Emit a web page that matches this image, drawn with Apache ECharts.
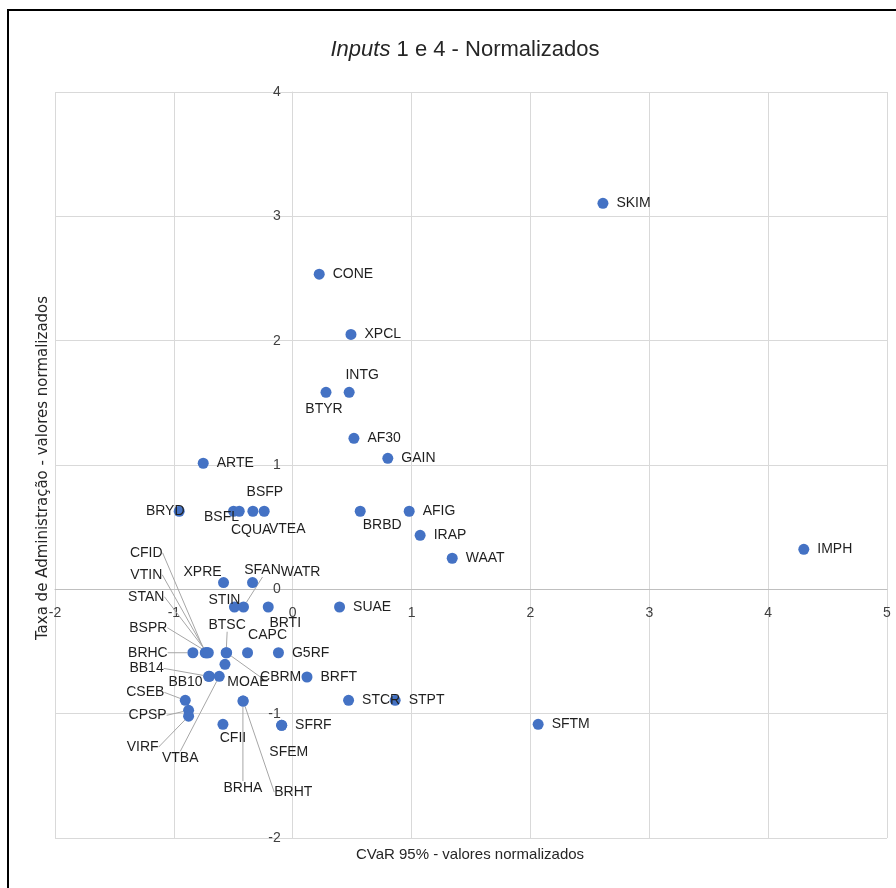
<!DOCTYPE html>
<html lang="pt">
<head>
    <meta charset="UTF-8">
    <title>Inputs 1 e 4 - Normalizados</title>
    <script src="https://cdn.jsdelivr.net/npm/echarts@6/dist/echarts.min.js"></script>
    <style>
        html, body { margin: 0; padding: 0; background: #fff; }
        #main { width: 896px; height: 888px; }
    </style>
</head>
<body>
<div id="main"></div>
<script>
    // fundos
    var names = ['SKIM', 'CONE', 'XPCL', 'INTG', 'BTYR', 'AF30', 'GAIN', 'ARTE', 'BRYD', 'BSFL',
        'CQUA', 'BSFP', 'VTEA', 'BRBD', 'AFIG', 'IRAP', 'WAAT', 'IMPH', 'XPRE', 'WATR',
        'STIN', 'SFAN', 'BRTI', 'SUAE', 'BRHC', 'CFID', 'VTIN', 'STAN', 'BSPR', 'BTSC',
        'CBRM', 'CAPC', 'G5RF', 'MOAE', 'BB14', 'BB10', 'VTBA', 'BRFT', 'CSEB', 'CPSP',
        'VIRF', 'BRHA', 'BRHT', 'STCR', 'STPT', 'CFII', 'SFRF', 'SFEM', 'SFTM'];
    // CVaR 95% normalizado (eixo x)
    var cvar = [2.61, 0.223, 0.49, 0.475, 0.28, 0.515, 0.80, -0.753, -0.955, -0.498,
        -0.45, -0.335, -0.24, 0.568, 0.98, 1.072, 1.342, 4.30, -0.582, -0.338,
        -0.49, -0.414, -0.206, 0.394, -0.84, -0.736, -0.727, -0.719, -0.71, -0.56,
        -0.556, -0.38, -0.12, -0.57, -0.708, -0.70, -0.618, 0.12, -0.904, -0.876,
        -0.876, -0.419, -0.416, 0.47, 0.862, -0.587, -0.094, -0.092, 2.065];
    // taxa de administração normalizada (eixo y)
    var taxa = [3.105, 2.535, 2.05, 1.585, 1.585, 1.215, 1.054, 1.014, 0.628, 0.628,
        0.628, 0.628, 0.628, 0.628, 0.628, 0.434, 0.25, 0.322, 0.054, 0.054,
        -0.142, -0.142, -0.142, -0.142, -0.51, -0.51, -0.51, -0.51, -0.51, -0.51,
        -0.51, -0.51, -0.51, -0.603, -0.70, -0.70, -0.70, -0.705, -0.893, -0.973,
        -1.02, -0.899, -0.899, -0.893, -0.893, -1.086, -1.094, -1.094, -1.086];

    // rótulos deslocados à mão: [dx, dy, linha de chamada]
    var labelShift = {
        INTG: [13, -17, 0], BTYR: [-2, 17, 0], BRYD: [-14, 0, 0],
        BSFL: [-12, 6, 0], CQUA: [12, 19, 0], BSFP: [12, -19, 0], VTEA: [23, 18, 0],
        BRBD: [22, 14, 0], XPRE: [-21, -10, 0], WATR: [48, -10, 0],
        SFAN: [19, -37, 1], STIN: [-10, -7, 0], BRTI: [17, 16, 0],
        CFID: [-59, -100, 1], VTIN: [-60, -78, 1], STAN: [-61, -56, 1], BSPR: [-60, -25, 1],
        BRHC: [-45, 0, 1], BTSC: [1, -28, 1], CBRM: [54, 24, 1], CAPC: [20, -18, 0],
        MOAE: [23, 18, 0], BB14: [-62, -8, 1], BB10: [-24, 6, 0], VTBA: [-39, 82, 1],
        CSEB: [-40, -8, 1], CPSP: [-41, 5, 1], VIRF: [-46, 31, 1],
        BRHA: [0, 87, 1], BRHT: [50, 91, 1], CFII: [10, 14, 0], SFEM: [7, 27, 0]
    };

    var points = names.map(function (n, i) {
        var s = labelShift[n];
        return {
            name: n,
            value: [cvar[i], taxa[i]],
            labelLine: { show: !!(s && s[2]) }
        };
    });

    var font = "'Liberation Sans', Arial, sans-serif";
    var gridTop = 92, gridBottom = 50, gridLeft = 55, gridRight = 9;
    var myChart = echarts.init(document.getElementById('main'));
    myChart.setOption({
        animation: false,
        title: {
            text: '{i|Inputs} 1 e 4 - Normalizados',
            left: 460,
            textAlign: 'center',
            top: 34,
            textStyle: {
                fontFamily: font, fontSize: 22, fontWeight: 'normal', color: '#262626',
                rich: { i: { fontFamily: font, fontSize: 22, fontStyle: 'italic', color: '#262626' } }
            }
        },
        grid: { left: gridLeft, right: gridRight, top: gridTop, bottom: gridBottom },
        xAxis: {
            type: 'value', min: -2, max: 5, interval: 1, position: 'bottom',
            axisLine: { onZero: false, lineStyle: { color: '#bfbfbf' } },
            axisTick: { show: false },
            axisLabel: { color: '#404040', fontFamily: font, fontSize: 14, margin: 17 },
            splitLine: { lineStyle: { color: '#d9d9d9' } }
        },
        yAxis: {
            type: 'value', min: -2, max: 4, interval: 1, position: 'left',
            axisLine: { show: true, onZero: false, lineStyle: { color: '#d9d9d9' } },
            axisTick: { show: false },
            axisLabel: { color: '#404040', fontFamily: font, fontSize: 14, margin: 12 },
            splitLine: { lineStyle: { color: '#d9d9d9' } }
        },
        graphic: [
            { type: 'rect', shape: { x: 8, y: 10, width: 900, height: 900 }, silent: true,
              style: { fill: 'none', stroke: '#000', lineWidth: 2 } },
            { type: 'text', x: 470, y: 855, silent: true,
              style: { text: 'CVaR 95% - valores normalizados', fill: '#262626', font: '15px ' + font,
                       align: 'center', verticalAlign: 'middle' } },
            { type: 'text', x: 43, y: 468, rotation: Math.PI / 2, silent: true,
              style: { text: 'Taxa de Administração - valores normalizados', fill: '#262626',
                       font: "15px 'DejaVu Sans', sans-serif", align: 'center', verticalAlign: 'middle' } }
        ],
        series: [{
            type: 'scatter',
            symbolSize: 11,
            itemStyle: { color: '#4472c4', opacity: 1 },
            label: {
                show: true, position: 'right', distance: 8, formatter: '{b}',
                color: '#1f1f1f', fontFamily: font, fontSize: 14
            },
            labelLine: { show: false, lineStyle: { color: '#a6a6a6', width: 1 } },
            labelLayout: function (p) {
                var s = labelShift[names[p.dataIndex]];
                if (!s) return {};
                return {
                    x: p.rect.x + p.rect.width / 2 + s[0],
                    y: p.rect.y + p.rect.height / 2 + s[1],
                    align: 'center', verticalAlign: 'middle'
                };
            },
            data: points
        }]
    });

    // eixos cruzando em zero: desloca as linhas dos eixos até a origem
    var origin = myChart.convertToPixel({ gridIndex: 0 }, [0, 0]);
    myChart.setOption({
        xAxis: { offset: origin[1] - (888 - gridBottom) },
        yAxis: { offset: gridLeft - origin[0] }
    });
</script>
</body>
</html>
